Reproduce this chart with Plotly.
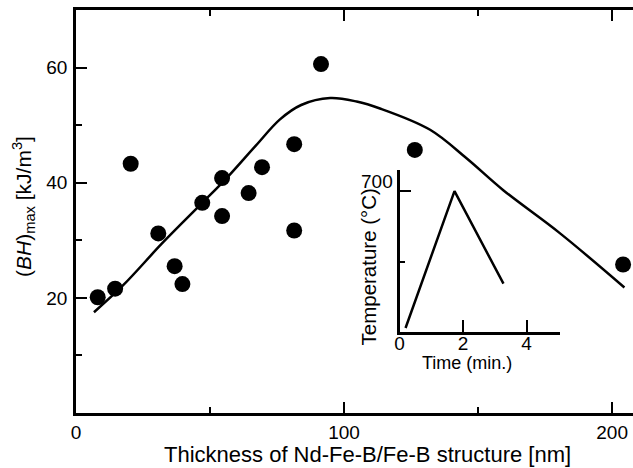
import plotly.graph_objects as go

# Measured energy product vs. total multilayer thickness
thickness_nm = [8.1, 14.6, 20.4, 30.7, 36.8, 39.7, 47.1, 54.5, 54.5, 64.4, 69.4,
                81.4, 81.4, 91.4, 126.4, 204.1]
bh_max = [20.1, 21.6, 43.3, 31.2, 25.5, 22.4, 36.5, 40.8, 34.2, 38.2, 42.7,
          46.7, 31.7, 60.6, 45.7, 25.8]

# Guide curve through the data
curve_x = [6.7, 17.6, 32.0, 46.9, 56.2, 67.0, 76.1, 84.0, 94.8, 104.7, 113.4,
           132.1, 145.8, 159.4, 180.6, 204.6]
curve_y = [17.5, 22.2, 29.4, 36.4, 40.8, 46.4, 51.0, 53.5, 54.7, 54.1, 52.9,
           49.2, 44.2, 38.7, 31.2, 21.8]

# Annealing profile (inset)
time_min = [0.19, 1.73, 3.27]
temp_c = [20, 700, 240]

FONT = "Liberation Sans"
BLACK = "black"

fig = go.Figure()

fig.add_trace(go.Scatter(x=curve_x, y=curve_y, mode="lines",
                         line=dict(color=BLACK, width=2.5, shape="spline", smoothing=1.0),
                         hoverinfo="skip", showlegend=False))
fig.add_trace(go.Scatter(x=thickness_nm, y=bh_max, mode="markers",
                         marker=dict(color=BLACK, size=16), showlegend=False))
fig.add_trace(go.Scatter(x=time_min, y=temp_c, mode="lines",
                         line=dict(color=BLACK, width=2.5),
                         xaxis="x2", yaxis="y2", showlegend=False))

tickfont = dict(family=FONT, size=19, color=BLACK)

fig.update_layout(
    width=633, height=468,
    margin=dict(l=76, r=0, t=10, b=55),
    paper_bgcolor="white", plot_bgcolor="rgba(0,0,0,0)",
    font=dict(family=FONT, color=BLACK),
    xaxis=dict(range=[0, 207.8], showgrid=False, zeroline=False,
               showline=True, linecolor=BLACK, linewidth=2.5, mirror="ticks",
               tickvals=[0, 100, 200], ticks="inside", ticklen=11, tickwidth=1.5,
               tickcolor=BLACK, tickfont=tickfont, ticklabelstandoff=0,
               minor=dict(tickvals=[50, 150], ticks="inside", ticklen=6,
                          tickwidth=1.5, tickcolor=BLACK)),
    yaxis=dict(range=[0, 70], showgrid=False, zeroline=False,
               showline=True, linecolor=BLACK, linewidth=2.5,
               tickvals=[20, 40, 60], ticks="inside", ticklen=11, tickwidth=1.5,
               tickcolor=BLACK, tickfont=tickfont, ticklabelstandoff=2,
               minor=dict(tickvals=[10, 30, 50], ticks="inside", ticklen=6,
                          tickwidth=1.5, tickcolor=BLACK)),
    yaxis3=dict(range=[0, 70], overlaying="y", side="right", anchor="x",
                showgrid=False, zeroline=False, showline=False,
                tickvals=[20, 40, 60], ticks="inside", ticklen=6, tickwidth=1.5,
                tickcolor=BLACK, showticklabels=False),
    xaxis2=dict(domain=[0.5808, 0.869], anchor="y2", range=[0, 5.05],
                showgrid=False, zeroline=False, showline=True, linecolor=BLACK,
                linewidth=2.5, tickvals=[0, 2, 4], ticks="inside", ticklen=12,
                tickwidth=1.5, tickcolor=BLACK, tickfont=tickfont,
                ticklabelstandoff=-8),
    yaxis2=dict(domain=[0.201, 0.603], anchor="x2", range=[0, 805],
                showgrid=False, zeroline=False, showline=True, linecolor=BLACK,
                linewidth=2.5, tickvals=[700], ticks="inside", ticklen=12,
                tickwidth=1.5, tickcolor=BLACK, showticklabels=False,
                minor=dict(tickvals=[350], ticks="inside", ticklen=6,
                           tickwidth=1.5, tickcolor=BLACK)),
)

titlefont = dict(family=FONT, size=22, color=BLACK)
fig.add_annotation(text="Thickness of Nd-Fe-B/Fe-B structure [nm]",
                   xref="paper", yref="paper", x=(367 - 76) / 557, y=0,
                   xanchor="center", yanchor="middle", yshift=-41,
                   showarrow=False, font=titlefont)
fig.add_annotation(text="(<i>BH</i>)<sub>max</sub> [kJ/m<sup>3</sup>]",
                   xref="paper", yref="paper", x=0, y=(413 - 207) / 403,
                   xanchor="center", yanchor="middle", xshift=-52,
                   textangle=-90, showarrow=False,
                   font=dict(family=FONT, size=21, color=BLACK))
fig.add_annotation(text="700", xref="x2 domain", yref="y2", x=0, y=700,
                   xanchor="right", yanchor="middle", xshift=-5, yshift=10,
                   showarrow=False, font=tickfont)
fig.add_annotation(text="Time (min.)", xref="x2", yref="y2 domain", x=2.12, y=0,
                   xanchor="center", yanchor="middle", yshift=-31,
                   showarrow=False, font=dict(family=FONT, size=18, color=BLACK))
fig.add_annotation(text="Temperature (°C)", xref="x2 domain", yref="y2",
                   x=0, y=323, xanchor="center", yanchor="middle", xshift=-31,
                   textangle=-90, showarrow=False,
                   font=dict(family=FONT, size=20.5, color=BLACK))

fig.write_html("out.html")
